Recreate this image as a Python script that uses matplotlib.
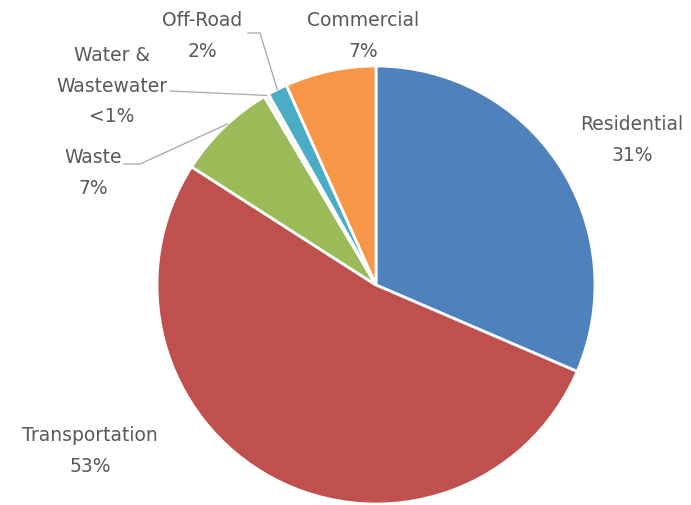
import numpy as np
import matplotlib.pyplot as plt

labels = ['Residential', 'Transportation', 'Waste', 'Water &\nWastewater', 'Off-Road', 'Commercial']
shares = [31.4, 52.5, 7.4, 0.35, 1.45, 6.7]
pct_text = ['31%', '53%', '7%', '<1%', '2%', '7%']
colors = ['#4F81BD', '#C0504D', '#9BBB59', '#F2F2F2', '#4BACC6', '#F79646']

W, H = 691, 506
fig = plt.figure(figsize=(W / 100, H / 100), dpi=100)
ax = fig.add_axes([0, 0, 1, 1])

cx, cy, r = 376, H - 286, 219
wedges, _ = ax.pie(shares, colors=colors, startangle=90, counterclock=False,
                   center=(cx, cy), radius=r,
                   wedgeprops=dict(edgecolor='white', linewidth=2))
ax.set_xlim(0, W)
ax.set_ylim(0, H)
ax.set_aspect('equal')
ax.axis('off')

grey = '#595959'
font = dict(family='DejaVu Sans', fontsize=13.5, color=grey, ha='center', va='center',
            linespacing=1.75)

# label centres (image px, y down)
label_pos = [(632, 140), (90, 451), (93, 173), (112, 86), (202, 36), (363, 36)]
for lab, pct, (x, y) in zip(labels, pct_text, label_pos):
    ax.text(x, H - y, lab + '\n' + pct, **font)


def edge_point(w, frac=0.5):
    a = np.deg2rad(w.theta1 + (w.theta2 - w.theta1) * frac)
    return cx + r * np.cos(a), cy + r * np.sin(a)


line = dict(color='#A6A6A6', linewidth=0.9)
# Waste leader
px, py = edge_point(wedges[2], 0.45)
ax.plot([124, 140, px], [H - 165, H - 165, py], **line)
# Water leader
px, py = edge_point(wedges[3])
ax.plot([170, px], [H - 92, py], **line)
# Off-Road leader
px, py = edge_point(wedges[4])
ax.plot([248, 260, px], [H - 34, H - 34, py], **line)

fig.savefig('out.png', dpi=100)
